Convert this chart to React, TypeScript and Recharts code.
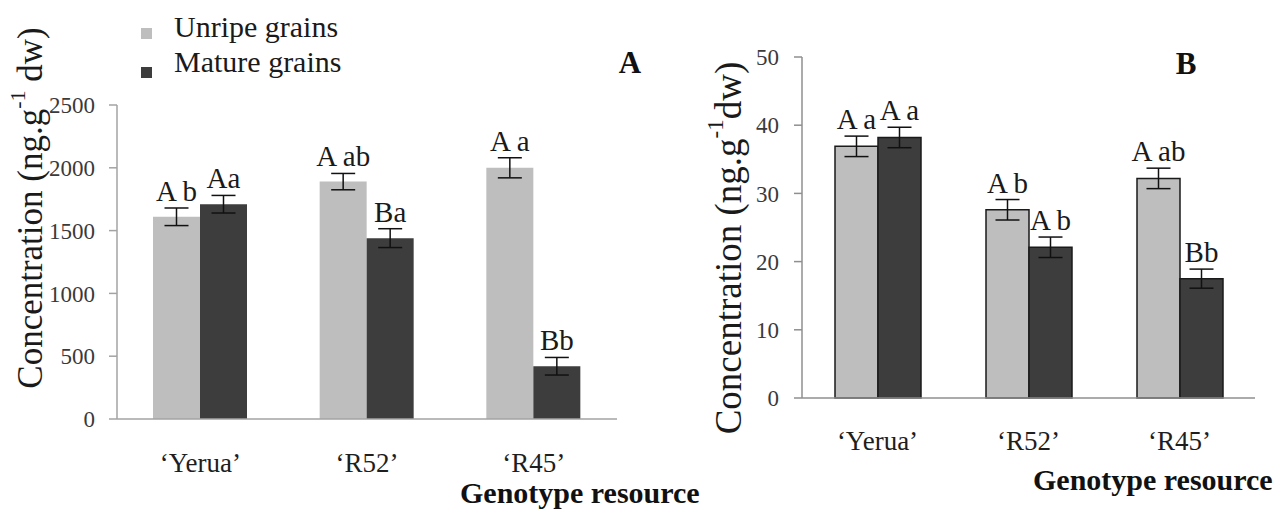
import React from "react";
import { BarChart, Bar, XAxis, YAxis, ErrorBar, LabelList } from "recharts";

const genotypes = ["‘Yerua’", "‘R52’", "‘R45’"];
const seriesNames = ["Unripe grains", "Mature grains"];

// panel A
const unripeA = [1610, 1890, 2000];
const unripeErrA = [70, 65, 80];
const matureA = [1710, 1440, 420];
const matureErrA = [70, 75, 70];
const unripeLettersA = ["A b", "A ab", "A a"];
const matureLettersA = ["Aa", "Ba", "Bb"];
const ticksA = [0, 500, 1000, 1500, 2000, 2500];

// panel B
const unripeB = [36.9, 27.6, 32.2];
const unripeErrB = [1.5, 1.5, 1.5];
const matureB = [38.2, 22.1, 17.5];
const matureErrB = [1.5, 1.5, 1.4];
const unripeLettersB = ["A a", "A b", "A ab"];
const matureLettersB = ["A a", "A b", "Bb"];
const ticksB = [0, 10, 20, 30, 40, 50];

const UNRIPE = "#bebebe";
const MATURE = "#3d3d3d";
const FONT = "Liberation Serif, serif";

const build = (u: number[], ue: number[], m: number[], me: number[], ul: string[], ml: string[]) =>
  genotypes.map((g, i) => ({
    genotype: g,
    unripe: u[i],
    unripeErr: ue[i],
    mature: m[i],
    matureErr: me[i],
    unripeLetter: ul[i],
    matureLetter: ml[i],
  }));

const dataA = build(unripeA, unripeErrA, matureA, matureErrA, unripeLettersA, matureLettersA);
const dataB = build(unripeB, unripeErrB, matureB, matureErrB, unripeLettersB, matureLettersB);

// letter sits just above the error bar top
function letterLabel(values: number[], errs: number[], letters: string[]) {
  return (props: any) => {
    const vb = props.viewBox || props;
    const x = props.x ?? vb.x;
    const y = props.y ?? vb.y;
    const w = props.width ?? vb.width;
    const h = props.height ?? vb.height;
    let i = props.index;
    if (i == null) i = letters.indexOf(props.value);
    const v = values[i];
    const ppu = v ? h / v : 0;
    const top = y - errs[i] * ppu;
    return (
      <text x={x + w / 2} y={top - 7} textAnchor="middle" fontFamily={FONT} fontSize={29} fill="#1a1a1a">
        {props.value}
      </text>
    );
  };
}

const tickStyle = { fill: "#3a3a3a", fontSize: 23, fontFamily: FONT };
const catStyle = { fill: "#1e1e1e", fontSize: 27, fontFamily: FONT };

export default function App() {
  return (
    <div style={{ position: "relative", width: 1286, height: 511, background: "#fff", overflow: "hidden", fontFamily: FONT }}>
      <style>{`body{margin:0}`}</style>

      <div style={{ position: "absolute", left: 0, top: 0 }}>
        <BarChart width={650} height={511} data={dataA} margin={{ top: 105, right: 33, bottom: 32, left: 0 }} barGap={0} barSize={47}>
          <XAxis dataKey="genotype" height={60} interval={0} axisLine={{ stroke: "#a3a3a3", strokeWidth: 1.5 }} tickLine={false} tickSize={0} tickMargin={34} tick={catStyle} />
          <YAxis width={117} domain={[0, 2500]} ticks={ticksA} interval={0} axisLine={{ stroke: "#a3a3a3", strokeWidth: 1.5 }} tickLine={{ stroke: "#a3a3a3", strokeWidth: 1.5 }} tickSize={8} tickMargin={14} tick={tickStyle} />
          <Bar dataKey="unripe" fill={UNRIPE} isAnimationActive={false}>
            <ErrorBar dataKey="unripeErr" width={12} stroke="#111" strokeWidth={1.5} isAnimationActive={false} />
            <LabelList dataKey="unripeLetter" content={letterLabel(unripeA, unripeErrA, unripeLettersA)} />
          </Bar>
          <Bar dataKey="mature" fill={MATURE} isAnimationActive={false}>
            <ErrorBar dataKey="matureErr" width={12} stroke="#111" strokeWidth={1.5} isAnimationActive={false} />
            <LabelList dataKey="matureLetter" content={letterLabel(matureA, matureErrA, matureLettersA)} />
          </Bar>
        </BarChart>
      </div>

      <div style={{ position: "absolute", left: 660, top: 0 }}>
        <BarChart width={626} height={511} data={dataB} margin={{ top: 57, right: 31, bottom: 53, left: 0 }} barGap={0} barSize={43}>
          <XAxis dataKey="genotype" height={60} interval={0} axisLine={{ stroke: "#8f8f8f", strokeWidth: 1.5 }} tickLine={false} tickSize={0} tickMargin={33} tick={catStyle} />
          <YAxis width={142} domain={[0, 50]} ticks={ticksB} interval={0} axisLine={{ stroke: "#8f8f8f", strokeWidth: 1.5 }} tickLine={{ stroke: "#8f8f8f", strokeWidth: 1.5 }} tickSize={8} tickMargin={15} tick={tickStyle} />
          <Bar dataKey="unripe" fill={UNRIPE} stroke="#1a1a1a" strokeWidth={1.5} isAnimationActive={false}>
            <ErrorBar dataKey="unripeErr" width={12} stroke="#111" strokeWidth={1.5} isAnimationActive={false} />
            <LabelList dataKey="unripeLetter" content={letterLabel(unripeB, unripeErrB, unripeLettersB)} />
          </Bar>
          <Bar dataKey="mature" fill={MATURE} stroke="#1a1a1a" strokeWidth={1.5} isAnimationActive={false}>
            <ErrorBar dataKey="matureErr" width={12} stroke="#111" strokeWidth={1.5} isAnimationActive={false} />
            <LabelList dataKey="matureLetter" content={letterLabel(matureB, matureErrB, matureLettersB)} />
          </Bar>
        </BarChart>
      </div>

      <svg width={1286} height={511} style={{ position: "absolute", left: 0, top: 0, pointerEvents: "none" }} fontFamily={FONT}>
        {/* legend */}
        <rect x={141} y={28} width={11} height={11} fill={UNRIPE} />
        <text x={174} y={37} fontSize={30} fill="#1a1a1a">{seriesNames[0]}</text>
        <rect x={141} y={67} width={11} height={11} fill={MATURE} />
        <text x={174} y={72} fontSize={30} fill="#1a1a1a">{seriesNames[1]}</text>

        {/* panel letters */}
        <text x={630} y={73} textAnchor="middle" fontSize={31} fontWeight="bold" fill="#111">A</text>
        <text x={1186} y={74} textAnchor="middle" fontSize={31} fontWeight="bold" fill="#111">B</text>

        {/* axis titles */}
        <text x={460} y={503} fontSize={30} fontWeight="bold" fill="#111">Genotype resource</text>
        <text x={1033} y={490} fontSize={30} fontWeight="bold" fill="#111">Genotype resource</text>

        <text transform="translate(30,208) rotate(-90)" textAnchor="middle" dominantBaseline="central" fontSize={35} fill="#1a1a1a">
          Concentration (ng.g<tspan dy={-13} fontSize={22}>-1</tspan><tspan dy={13}> dw)</tspan>
        </text>
        <text transform="translate(728,248) rotate(-90)" textAnchor="middle" dominantBaseline="central" fontSize={37} fill="#1a1a1a">
          Concentration (ng.g<tspan dy={-13} fontSize={23}>-1</tspan><tspan dy={13}>dw)</tspan>
        </text>
      </svg>
    </div>
  );
}
